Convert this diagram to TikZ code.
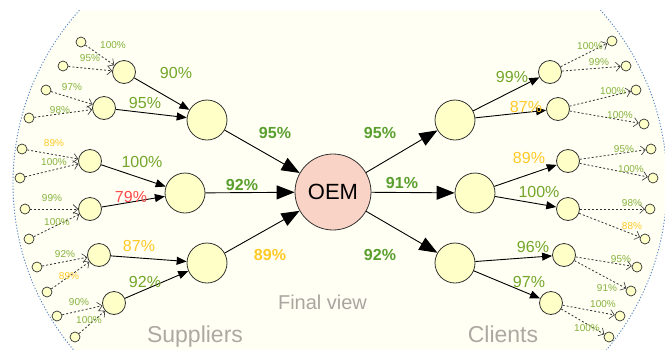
\documentclass[tikz,border=0pt]{standalone}
\usepackage{fontspec}
\setmainfont{Liberation Sans}
\usetikzlibrary{arrows.meta}
\definecolor{cream}{HTML}{FFFFF4}
\definecolor{nodefill}{HTML}{FFFFC8}
\definecolor{oemfill}{HTML}{F9D3C6}
\definecolor{arcblue}{HTML}{5A86C8}
\definecolor{gsmall}{HTML}{86B23C}
\definecolor{gmid}{HTML}{74A62A}
\definecolor{gbold}{HTML}{5A9F2E}
\definecolor{yel}{HTML}{FFC926}
\definecolor{redc}{HTML}{FF4A4A}
\definecolor{graytxt}{HTML}{ADA9A2}
\definecolor{edgec}{HTML}{333333}
\tikzset{
  x=1pt,y=-1pt,
  leaf/.style={circle,draw=edgec,line width=0.7pt,fill=nodefill,minimum size=10pt,inner sep=0pt},
  midc/.style={circle,draw=edgec,line width=0.8pt,fill=nodefill,minimum size=23pt,inner sep=0pt},
  bigc/.style={circle,draw=edgec,line width=0.8pt,fill=nodefill,minimum size=40pt,inner sep=0pt},
  oemc/.style={circle,draw=edgec,line width=0.8pt,fill=oemfill,minimum size=76pt,inner sep=0pt,font=\fontsize{22}{22}\selectfont},
  bigarr/.style={draw=black,line width=0.9pt,-{Triangle[length=18pt,width=14pt]}},
  midarr/.style={draw=black,line width=0.9pt,-{Triangle[length=10pt,width=8pt]}},
  dasharr/.style={draw=edgec,line width=0.8pt,dash pattern=on 2pt off 2pt,-{Straight Barb[length=4.5pt,width=9pt,line width=0.6pt]}},
  slab/.style={inner sep=0pt,font=\fontsize{10}{10}\selectfont,text=gsmall},
  mlab/.style={inner sep=0pt,font=\fontsize{16}{16}\selectfont,text=gmid},
  blab/.style={inner sep=0pt,font=\fontsize{16}{16}\selectfont\bfseries,text=gbold},
  ttl/.style={inner sep=0pt,anchor=base,font=\fontsize{23}{23}\selectfont,text=graytxt}
}
\begin{document}
\begin{tikzpicture}
\useasboundingbox (0,0) rectangle (665,349);
% background region between the arcs
\begin{scope}
  \clip (0,10) rectangle (665,349);
  \fill[cream] (272,183.5) circle (259pt);
  \fill[cream] (408,183.5) circle (259pt);
\end{scope}
\begin{scope}
  \clip (0,10) rectangle (340,349);
  \draw[arcblue,line width=0.9pt,dash pattern=on 1.2pt off 1.8pt] (272,183.5) circle (259pt);
\end{scope}
\begin{scope}
  \clip (340,10) rectangle (665,349);
  \draw[arcblue,line width=0.9pt,dash pattern=on 1.2pt off 1.8pt] (408,183.5) circle (259pt);
\end{scope}

% center
\node[oemc] (oem) at (333,192) {OEM};

% suppliers
\node[bigc] (L1) at (207,120) {};
\node[bigc] (L2) at (185,193) {};
\node[bigc] (L3) at (207,263) {};
\node[midc] (S1) at (124,72) {};
\node[midc] (S2) at (104,108) {};
\node[midc] (S3) at (90,161) {};
\node[midc] (S4) at (90,209) {};
\node[midc] (S5) at (99,255) {};
\node[midc] (S6) at (114,303) {};
\node[leaf] (a1) at (81,42) {};
\node[leaf] (a2) at (63,66) {};
\node[leaf] (a3) at (46,90) {};
\node[leaf] (a4) at (29,118) {};
\node[leaf] (a5) at (22,149) {};
\node[leaf] (a6) at (20,178) {};
\node[leaf] (a7) at (25,209) {};
\node[leaf] (a8) at (29,239) {};
\node[leaf] (a9) at (37,267) {};
\node[leaf] (a10) at (47,292) {};
\node[leaf] (a11) at (57,316) {};
\node[leaf] (a12) at (75,337) {};

% clients
\node[bigc] (C1) at (455,120) {};
\node[bigc] (C2) at (475,193) {};
\node[bigc] (C3) at (455,263) {};
\node[midc] (C11) at (550,72) {};
\node[midc] (C12) at (558,109) {};
\node[midc] (C21) at (568,161) {};
\node[midc] (C22) at (568,209) {};
\node[midc] (C31) at (564,255) {};
\node[midc] (C32) at (551,303) {};
\node[leaf] (b1) at (612,41) {};
\node[leaf] (b2) at (626,66) {};
\node[leaf] (b3) at (636,90) {};
\node[leaf] (b4) at (644,124) {};
\node[leaf] (b5) at (651,149) {};
\node[leaf] (b6) at (653,178) {};
\node[leaf] (b7) at (650,209) {};
\node[leaf] (b8) at (645,239) {};
\node[leaf] (b9) at (637,267) {};
\node[leaf] (b10) at (631,291) {};
\node[leaf] (b11) at (620,316) {};
\node[leaf] (b12) at (609,337) {};

% edges left
\draw[bigarr] (L1) -- (oem);
\draw[bigarr] (L2) -- (oem);
\draw[bigarr] (L3) -- (oem);
\draw[midarr] (S1) -- (L1);
\draw[midarr] (S2) -- (L1);
\draw[midarr] (S3) -- (L2);
\draw[midarr] (S4) -- (L2);
\draw[midarr] (S5) -- (L3);
\draw[midarr] (S6) -- (L3);
\draw[dasharr] (a1) -- (S1);
\draw[dasharr] (a2) -- (S1);
\draw[dasharr] (a3) -- (S2);
\draw[dasharr] (a4) -- (S2);
\draw[dasharr] (a5) -- (S3);
\draw[dasharr] (a6) -- (S3);
\draw[dasharr] (a7) -- (S4);
\draw[dasharr] (a8) -- (S4);
\draw[dasharr] (a9) -- (S5);
\draw[dasharr] (a10) -- (S5);
\draw[dasharr] (a11) -- (S6);
\draw[dasharr] (a12) -- (S6);

% edges right
\draw[bigarr] (oem) -- (C1);
\draw[bigarr] (oem) -- (C2);
\draw[bigarr] (oem) -- (C3);
\draw[midarr] (C1) -- (C11);
\draw[midarr] (C1) -- (C12);
\draw[midarr] (C2) -- (C21);
\draw[midarr] (C2) -- (C22);
\draw[midarr] (C3) -- (C31);
\draw[midarr] (C3) -- (C32);
\draw[dasharr] (C11) -- (b1);
\draw[dasharr] (C11) -- (b2);
\draw[dasharr] (C12) -- (b3);
\draw[dasharr] (C12) -- (b4);
\draw[dasharr] (C21) -- (b5);
\draw[dasharr] (C21) -- (b6);
\draw[dasharr] (C22) -- (b7);
\draw[dasharr] (C22) -- (b8);
\draw[dasharr] (C31) -- (b9);
\draw[dasharr] (C31) -- (b10);
\draw[dasharr] (C32) -- (b11);
\draw[dasharr] (C32) -- (b12);

% small labels left
\node[slab] (ta1) at (113,45) {100\%};
\node[slab] (ta2) at (90,58) {95\%};
\node[slab] (ta3) at (72,87) {97\%};
\node[slab] (ta4) at (60,110) {98\%};
\node[slab,text=yel] (ta5) at (54,143) {89\%};
\node[slab] (ta6) at (54,162) {100\%};
\node[slab] (ta7) at (52,198) {99\%};
\node[slab] (ta8) at (57,222) {100\%};
\node[slab] (ta9) at (65,254) {92\%};
\node[slab,text=yel] (ta10) at (69,276) {89\%};
\node[slab] (ta11) at (79,302) {90\%};
\node[slab] (ta12) at (89,320) {100\%};
% small labels right
\node[slab] (tb1) at (590,46) {100\%};
\node[slab] (tb2) at (599,62) {99\%};
\node[slab] (tb3) at (613,91) {100\%};
\node[slab] (tb4) at (620,115) {100\%};
\node[slab] (tb5) at (624,149) {95\%};
\node[slab] (tb6) at (631,169) {100\%};
\node[slab] (tb7) at (632,203) {98\%};
\node[slab,text=yel] (tb8) at (632,226) {88\%};
\node[slab] (tb9) at (621,259) {95\%};
\node[slab] (tb10) at (607,288) {91\%};
\node[slab] (tb11) at (603,304) {100\%};
\node[slab] (tb12) at (587,328) {100\%};

% medium labels
\node[mlab] (ms1) at (176,73) {90\%};
\node[mlab] (ms2) at (145,103) {95\%};
\node[mlab] (ms3) at (142,162) {100\%};
\node[mlab,text=redc] (ms4) at (131,197) {79\%};
\node[mlab,text=yel] (ms5) at (139,246) {87\%};
\node[mlab] (ms6) at (145,282) {92\%};
\node[mlab] (mc1) at (512,77) {99\%};
\node[mlab,text=yel] (mc2) at (526,107) {87\%};
\node[mlab,text=yel] (mc3) at (529,158) {89\%};
\node[mlab] (mc4) at (539,192) {100\%};
\node[mlab] (mc5) at (533,247) {96\%};
\node[mlab] (mc6) at (529,282) {97\%};

% bold labels
\node[blab] (bs1) at (275,133) {95\%};
\node[blab] (bs2) at (242,185) {92\%};
\node[blab,text=yel] (bs3) at (270,255) {89\%};
\node[blab] (bc1) at (380,133) {95\%};
\node[blab] (bc2) at (402,183) {91\%};
\node[blab] (bc3) at (380,255) {92\%};

% titles
\node[ttl,font=\fontsize{20}{20}\selectfont,text=graytxt!90!gray] (fv) at (322.5,309) {Final view};
\node[ttl] (sup) at (195,342) {Suppliers};
\node[ttl] (cli) at (503,342) {Clients};
\end{tikzpicture}
\end{document}
